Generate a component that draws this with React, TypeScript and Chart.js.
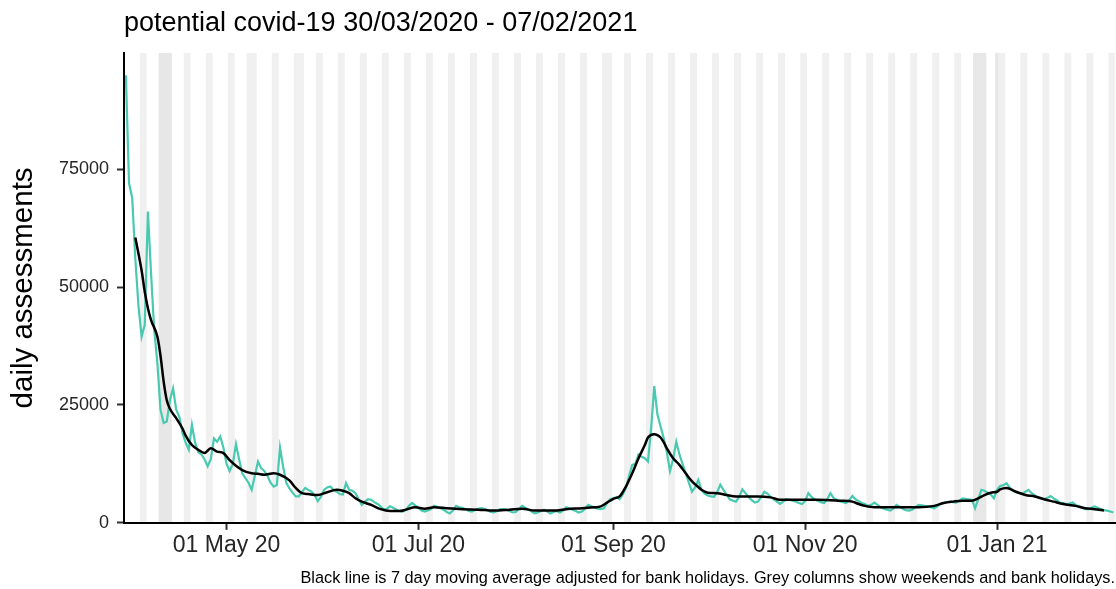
import React, { useEffect, useRef } from 'react';
import { Chart, registerables } from 'chart.js';

Chart.register(...registerables);

const FONT = '"Liberation Sans", Arial, sans-serif';

const chartTitle = 'potential covid-19 30/03/2020 - 07/02/2021';
const caption = 'Black line is 7 day moving average adjusted for bank holidays. Grey columns show weekends and bank holidays.';
const yAxisTitle = 'daily assessments';

// day index 0 = 30/03/2020 (Monday) ... 314 = 07/02/2021
const daily = [
  94900, 72000, 69000, 56000, 46000, 39500, 42000, 66000, 53000, 41000,
  34000, 24000, 21200, 21500, 26000, 28500, 24000, 22500, 19000, 17000,
  15500, 20800, 17000, 15000, 14500, 13500, 12000, 13500, 17900, 17200,
  18300, 16000, 12500, 11000, 12500, 16700, 13500, 10500, 9500, 8500,
  7000, 10000, 13000, 11600, 11000, 10000, 8500, 7700, 8000, 16000,
  11900, 8500, 7300, 6400, 5600, 5600, 6500, 7400, 7000, 6600,
  5900, 4600, 5500, 7000, 7500, 7700, 7000, 6600, 6100, 6000,
  8400, 7000, 6800, 6300, 5000, 3800, 4500, 5000, 4900, 4400,
  4000, 3500, 2800, 3000, 3500, 3200, 2800, 2500, 2400, 2700,
  3600, 4200, 3700, 3200, 2600, 2400, 2600, 2900, 3600, 3400,
  3100, 2800, 2300, 2000, 2600, 3600, 3300, 3200, 2900, 2500,
  2400, 2700, 3000, 3100, 2900, 2700, 2300, 2200, 2500, 2900,
  2900, 2800, 2500, 2200, 2300, 3000, 3600, 3200, 2800, 2400,
  2000, 2200, 2500, 2800, 2400, 2000, 2300, 2500, 2200, 2600,
  3300, 3100, 2800, 2500, 2200, 2400, 3000, 3800, 3500, 3200,
  3000, 2900, 3100, 4300, 5000, 5200, 5500, 5000, 6000, 7400,
  10000, 12300, 12500, 14500, 14000, 13700, 13000, 20000, 29000, 23000,
  20500, 18000, 15000, 11000, 13500, 17200, 14500, 12500, 10500, 8500,
  6600, 7500, 9100, 7000, 6200, 5800, 5600, 5500, 6500, 8100,
  7000, 6000, 5000, 4700, 4500, 5500, 7100, 6300, 5500, 4800,
  4300, 4500, 5500, 6600, 6200, 5500, 5000, 4500, 4000, 4500,
  5000, 4900, 4700, 4500, 4200, 4000, 4600, 6300, 5500, 5000,
  4700, 4400, 4200, 5000, 6300, 5300, 4900, 4600, 4400, 4200,
  4800, 5700, 5000, 4600, 4200, 4000, 3600, 3800, 4300, 3800,
  3300, 3000, 2800, 2600, 3000, 3800, 3400, 3000, 2700, 2600,
  2800, 3300, 3800, 3700, 3600, 3500, 3300, 3100, 3500, 4000,
  4200, 4400, 4500, 4400, 4300, 4700, 5200, 5100, 5000, 4900,
  3100, 5000, 7000, 6800, 6400, 6000, 5200, 7000, 7800, 8000,
  8400, 7500, 6800, 6500, 6300, 6200, 6600, 7000, 6300, 5800,
  5300, 5200, 5000, 5300, 5700, 5200, 4800, 4300, 4200, 4000,
  4100, 4300, 3800, 3500, 3200, 2900, 2900, 3200, 3500, 3200,
  2900, 2700, 2600, 2400, 2200,
];

// 7 day moving average (black line), read at these day indices
const maDays = [
  3, 5, 6, 7, 8, 10, 11, 12, 13, 14, 16, 18, 19, 21, 23, 25, 27, 29, 31, 33,
  35, 37, 40, 42, 44, 47, 49, 52, 54, 56, 58, 61, 64, 67, 69, 71, 73, 75, 78, 81,
  84, 87, 89, 92, 95, 98, 102, 107, 112, 117, 122, 126, 130, 134, 137, 140, 145, 149, 151, 153,
  155, 157, 159, 161, 163, 165, 166, 168, 169, 170, 171, 172, 174, 176, 178, 180, 182, 183, 185, 188,
  191, 194, 201, 205, 208, 215, 220, 227, 231, 233, 235, 238, 244, 248, 252, 257, 260, 263, 266, 269,
  271, 273, 275, 277, 278, 280, 283, 286, 289, 292, 295, 298, 302, 305, 308, 311,
];
const maValues = [
  60500, 53500, 49000, 45500, 43000, 39500, 35500, 30000, 26000, 24200, 22200, 20000, 18500, 16500, 15500, 14800, 15800, 15100, 14800, 13300,
  12100, 11200, 10500, 10400, 10200, 10500, 10200, 9000, 7400, 6300, 6100, 5900, 6500, 7000, 6800, 6300, 5200, 4500, 3800, 2900,
  2500, 2500, 2800, 3300, 3000, 3300, 3100, 2900, 2800, 2600, 2800, 3000, 2600, 2600, 2600, 2900, 3100, 3300, 3500, 4300,
  5100, 5600, 7700, 10500, 13700, 16500, 18100, 18800, 18600, 18100, 17100, 15800, 13700, 12300, 10500, 8800, 7600, 7000, 6400, 6300,
  5900, 5600, 5600, 5400, 4900, 4900, 4900, 4700, 4500, 4000, 3600, 3300, 3300, 3300, 3300, 3600, 4200, 4500, 4700, 4700,
  5200, 5900, 6400, 6600, 7100, 7400, 6600, 5900, 5600, 5000, 4500, 4000, 3600, 3100, 2900, 2600,
];

const tickDays = [32, 93, 155, 216, 277];
const tickLabels = ['01 May 20', '01 Jul 20', '01 Sep 20', '01 Nov 20', '01 Jan 21'];
const yTicks = [0, 25000, 50000, 75000];
const bankHolidays = [11, 14, 39, 56, 154, 270, 273, 277];
const darkDays = [11, 12, 13, 14, 270, 271, 272, 273, 277];

export default function App() {
  const ref = useRef<HTMLCanvasElement>(null);

  useEffect(() => {
    const yMax = Math.max(...daily) * 1.05;
    const greyDays = daily
      .map((_, d) => d)
      .filter((d) => d % 7 === 5 || d % 7 === 6 || bankHolidays.includes(d));

    const xTickFont = { family: FONT, size: 23, weight: 'normal' as const, lineHeight: 1.2 };
    const yTickFont = { family: FONT, size: 18, weight: 'normal' as const, lineHeight: 1.2 };

    const chart = new Chart(ref.current as HTMLCanvasElement, {
      type: 'line',
      data: {
        datasets: [
          {
            type: 'bar',
            data: greyDays.map((d) => ({ x: d, y: yMax })),
            backgroundColor: greyDays.map((d) => (darkDays.includes(d) ? '#e7e7e7' : '#f0f0f0')),
            borderWidth: 0,
            barPercentage: 1,
            categoryPercentage: 1,
            order: 3,
          } as any,
          {
            type: 'line',
            data: daily.map((v, d) => ({ x: d, y: v })),
            borderColor: '#48C9B0',
            borderWidth: 2.2,
            pointRadius: 0,
            tension: 0,
            order: 2,
          },
          {
            type: 'line',
            data: maDays.map((d, i) => ({ x: d, y: maValues[i] })),
            borderColor: '#000000',
            borderWidth: 2.5,
            pointRadius: 0,
            cubicInterpolationMode: 'monotone',
            order: 1,
          },
        ],
      },
      options: {
        animation: false,
        responsive: true,
        maintainAspectRatio: false,
        devicePixelRatio: 1,
        layout: { padding: { left: 0, right: 1, top: 0, bottom: 0 } },
        plugins: {
          legend: { display: false },
          tooltip: { enabled: false },
          title: {
            display: true,
            text: chartTitle,
            align: 'start',
            fullSize: false,
            color: '#000',
            font: { family: FONT, size: 27, weight: 'normal', lineHeight: 1.2 },
            padding: { top: 7.8, bottom: 12.8 },
          },
          subtitle: {
            display: true,
            text: caption,
            position: 'bottom',
            align: 'end',
            fullSize: true,
            color: '#000',
            font: { family: FONT, size: 16.3, weight: 'normal', lineHeight: 1.2 },
            padding: { top: 5, bottom: 0.4 },
          },
        },
        scales: {
          x: {
            type: 'linear',
            offset: false,
            min: -0.6,
            max: 314.5,
            afterBuildTicks: (s: any) => {
              s.ticks = tickDays.map((v) => ({ value: v }));
            },
            afterFit: (s: any) => {
              s.height = 41.2;
            },
            ticks: {
              autoSkip: false,
              maxRotation: 0,
              color: '#262626',
              font: xTickFont,
              padding: 2.2,
              callback: (v: any) => {
                const i = tickDays.indexOf(Number(v));
                return i >= 0 ? tickLabels[i] : '';
              },
            },
            grid: {
              display: true,
              offset: false,
              drawOnChartArea: false,
              drawTicks: true,
              tickLength: 7,
              tickWidth: 2,
              tickColor: '#303030',
            },
            border: { display: true, color: '#000', width: 2, z: 1 },
          },
          y: {
            min: 0,
            max: yMax,
            afterBuildTicks: (s: any) => {
              s.ticks = yTicks.map((v) => ({ value: v }));
            },
            afterFit: (s: any) => {
              s.width = 124;
            },
            ticks: {
              color: '#262626',
              font: yTickFont,
              padding: 8,
              callback: (v: any) => String(v),
            },
            grid: {
              display: true,
              drawOnChartArea: false,
              drawTicks: true,
              tickLength: 7,
              tickWidth: 2,
              tickColor: '#303030',
            },
            border: { display: true, color: '#000', width: 2, z: 1 },
            title: {
              display: true,
              text: yAxisTitle,
              color: '#000',
              font: { family: FONT, size: 29.5, weight: 'normal', lineHeight: 1.2 },
              padding: { top: 6.3, bottom: 0 },
            },
          },
        },
      },
    });
    return () => chart.destroy();
  }, []);

  return (
    <div style={{ position: 'fixed', left: 0, top: 0, width: 1116, height: 589, background: '#fff' }}>
      <canvas ref={ref} />
    </div>
  );
}
